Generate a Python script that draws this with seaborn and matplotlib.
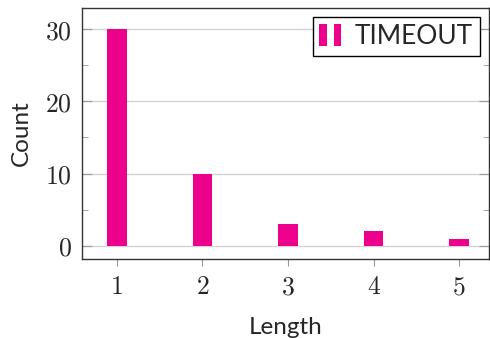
import pandas as pd
import matplotlib.pyplot as plt
import seaborn as sns
from matplotlib.patches import Rectangle
from matplotlib.legend_handler import HandlerBase

# data
lengths = [1, 2, 3, 4, 5]
counts = [30, 10, 3, 2, 1]
series_name = "TIMEOUT"

bar_color = "#EC008C"

sns.set_style("ticks")
plt.rcParams["font.family"] = ["Lato", "DejaVu Sans"]
plt.rcParams["mathtext.fontset"] = "cm"

df = pd.DataFrame({"Length": lengths, "Count": counts})

fig = plt.figure(figsize=(4.9, 3.38), dpi=100)
ax = fig.add_axes([0.167, 0.234, 0.831, 0.742])

sns.barplot(data=df, x="Length", y="Count", native_scale=True, width=0.23,
            color=bar_color, saturation=1, linewidth=0, ax=ax, zorder=3)

ax.set_xlim(0.59, 5.35)
ax.set_ylim(-1.8, 32.9)

ax.set_xticks(lengths)
ax.set_xticklabels([f"${v}$" for v in lengths], fontsize=18.5)
ax.set_yticks([0, 10, 20, 30])
ax.set_yticklabels([f"${v}$" for v in [0, 10, 20, 30]], fontsize=18.5)
ax.set_yticks([5, 15, 25], minor=True)

ax.tick_params(axis="x", direction="out", length=5, color="#999999", top=False, pad=6)
ax.tick_params(axis="y", which="major", direction="in", length=7, color="#999999",
               left=True, right=True, pad=7)
ax.tick_params(axis="y", which="minor", direction="in", length=4, color="#999999",
               left=True, right=True)

ax.grid(axis="y", color="#d4d4d4", linewidth=1, zorder=0)
ax.grid(axis="x", visible=False)
ax.set_axisbelow(True)

for s in ax.spines.values():
    s.set_color("#333333")
    s.set_linewidth(1)
    s.set_visible(True)

ax.set_xlabel("Length", fontsize=17.5, labelpad=13)
ax.set_ylabel("Count", fontsize=17.5, labelpad=10)


class TwoBars(HandlerBase):
    def create_artists(self, legend, orig_handle, xdescent, ydescent,
                       width, height, fontsize, trans):
        w = width * 0.28
        h = height * 1.2
        y0 = -ydescent - height * 0.1
        r1 = Rectangle((-xdescent, y0), w, h, facecolor=bar_color,
                       linewidth=0, transform=trans)
        r2 = Rectangle((-xdescent + width * 0.55, y0), w, h, facecolor=bar_color,
                       linewidth=0, transform=trans)
        return [r1, r2]


handle = Rectangle((0, 0), 1, 1, facecolor=bar_color)
leg = ax.legend([handle], [series_name], loc="upper right", fontsize=19,
                handler_map={Rectangle: TwoBars()}, handlelength=1.0,
                handletextpad=0.35, borderpad=0.25, fancybox=False,
                framealpha=1, edgecolor="black", borderaxespad=0.35)
leg.get_frame().set_linewidth(1)

fig.savefig("out.png", dpi=100)
